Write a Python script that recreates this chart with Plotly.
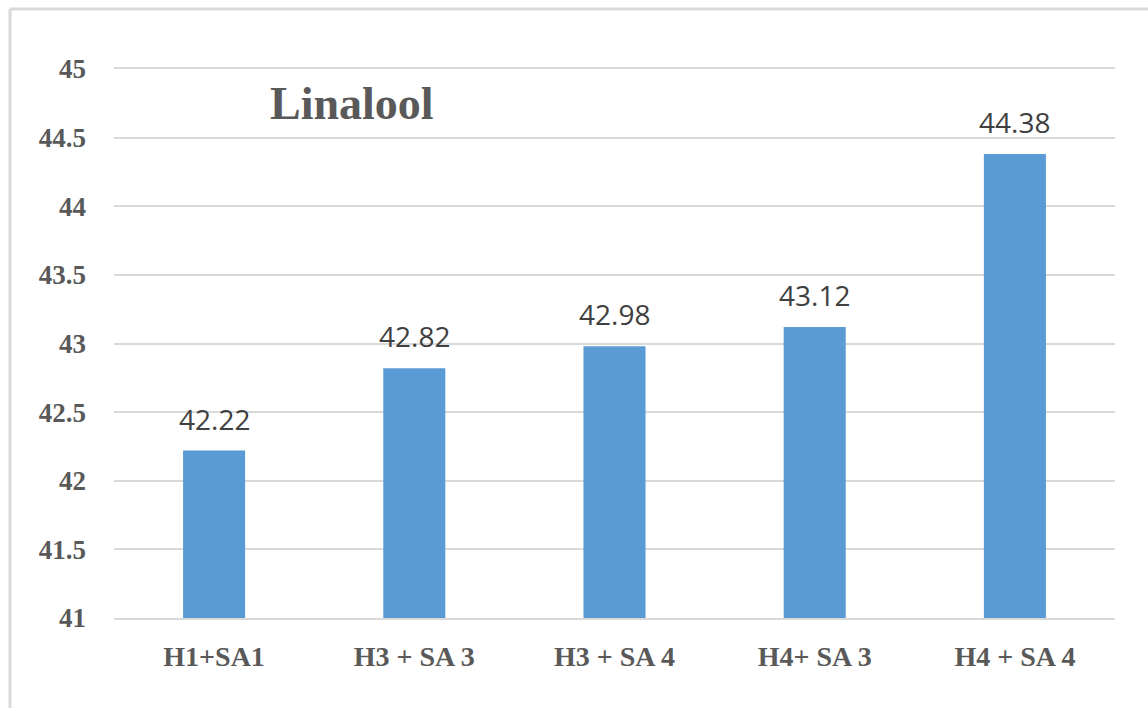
import plotly.graph_objects as go

# Linalool content per treatment
categories = ["H1+SA1", "H3 + SA 3", "H3 + SA 4", "H4+ SA 3", "H4 + SA 4"]
values = [42.22, 42.82, 42.98, 43.12, 44.38]
value_labels = ["42.22", "42.82", "42.98", "43.12", "44.38"]
y_ticks = [41, 41.5, 42, 42.5, 43, 43.5, 44, 44.5, 45]
y_tick_text = ["41", "41.5", "42", "42.5", "43", "43.5", "44", "44.5", "45"]

BAR = "#5b9bd5"
GRID = "#d9d9d9"
TXT = "#595959"
SERIF = "Liberation Serif, Times New Roman, serif"

fig = go.Figure()
fig.add_trace(go.Bar(
    x=categories, y=values, marker=dict(color=BAR, line=dict(width=0)),
    width=0.31, hoverinfo="skip",
))

# value labels above each bar
for c, v, t in zip(categories, values, value_labels):
    fig.add_annotation(
        x=c, y=v, text=t, showarrow=False, yanchor="bottom", yshift=11,
        font=dict(family="Open Sans, Liberation Sans, sans-serif", size=28, color="#404040"),
    )

# chart title inside the plot area
fig.add_annotation(
    xref="paper", yref="paper", x=0.154, y=0.938, xanchor="left", yanchor="middle",
    text="<b>Linalool</b>", showarrow=False,
    font=dict(family=SERIF, size=46, color=TXT),
)

# outer frame (top and left edges)
fig.add_shape(type="line", xref="paper", yref="paper", x0=-0.1039, x1=1.2, y0=1.1093, y1=1.1093,
              line=dict(color=GRID, width=3))
fig.add_shape(type="line", xref="paper", yref="paper", x0=-0.1039, x1=-0.1039, y0=1.1093, y1=-0.3,
              line=dict(color=GRID, width=3))

fig.update_layout(
    width=1148, height=708,
    margin=dict(l=114, r=33, t=69, b=90),
    paper_bgcolor="white", plot_bgcolor="white",
    showlegend=False,
    bargap=0.69,
    xaxis=dict(
        showgrid=False, showline=True, linecolor=GRID, linewidth=2, mirror=True, ticks="",
        tickfont=dict(family=SERIF, size=28, color=TXT, weight="bold"),
        ticklabelstandoff=12,
    ),
    yaxis=dict(
        range=[41, 45], tickvals=y_ticks, ticktext=y_tick_text,
        showgrid=True, gridcolor=GRID, gridwidth=2, zeroline=False, showline=False,
        ticks="", tickfont=dict(family=SERIF, size=27, color=TXT, weight="bold"),
        ticklabelstandoff=27,
    ),
)

fig.write_html("out.html")
